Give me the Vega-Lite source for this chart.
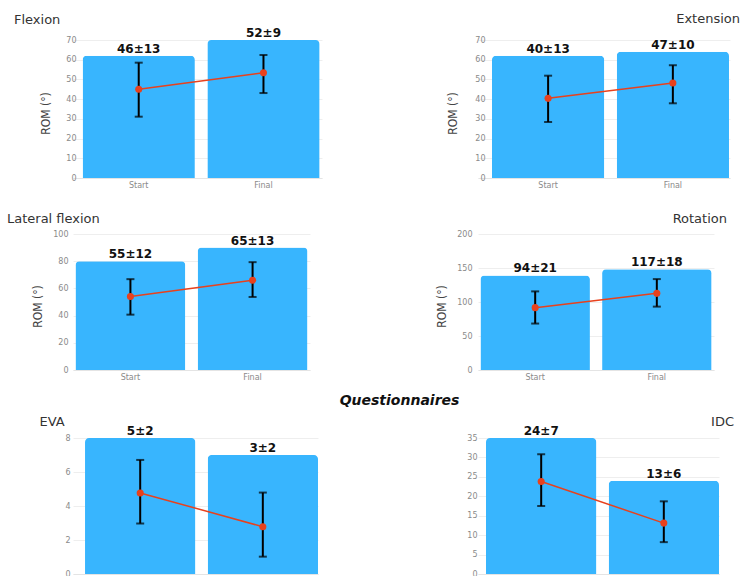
{
  "$schema": "https://vega.github.io/schema/vega-lite/v6.json",
  "padding": {"left": 7, "top": 13, "right": 0, "bottom": 0},
  "background": "white",
  "datasets": {
    "rom": [
      {"panel": "Flexion", "time": "Start", "bar": 62, "mean": 45, "lo": 31.1, "hi": 58.5, "label": "46±13"},
      {"panel": "Flexion", "time": "Final", "bar": 70, "mean": 53.4, "lo": 43.1, "hi": 62.4, "label": "52±9"},
      {"panel": "Extension", "time": "Start", "bar": 62, "mean": 40.4, "lo": 28.4, "hi": 51.9, "label": "40±13"},
      {"panel": "Extension", "time": "Final", "bar": 64, "mean": 48.2, "lo": 37.9, "hi": 57.2, "label": "47±10"},
      {"panel": "Lateral flexion", "time": "Start", "bar": 80, "mean": 54, "lo": 40.7, "hi": 66.8, "label": "55±12"},
      {"panel": "Lateral flexion", "time": "Final", "bar": 90, "mean": 66, "lo": 53.7, "hi": 79.3, "label": "65±13"},
      {"panel": "Rotation", "time": "Start", "bar": 139, "mean": 91.7, "lo": 68.3, "hi": 115.6, "label": "94±21"},
      {"panel": "Rotation", "time": "Final", "bar": 148, "mean": 112.7, "lo": 93.2, "hi": 133.7, "label": "117±18"},
      {"panel": "EVA", "time": "Start", "bar": 8, "mean": 4.77, "lo": 2.97, "hi": 6.71, "label": "5±2"},
      {"panel": "EVA", "time": "Final", "bar": 7, "mean": 2.78, "lo": 1.02, "hi": 4.79, "label": "3±2"},
      {"panel": "IDC", "time": "Start", "bar": 35, "mean": 23.8, "lo": 17.5, "hi": 30.8, "label": "24±7"},
      {"panel": "IDC", "time": "Final", "bar": 24, "mean": 13.1, "lo": 8.2, "hi": 18.7, "label": "13±6"}
    ]
  },
  "data": {"name": "rom"},
  "columns": 2,
  "spacing": {"row": 56, "column": 156},
  "bounds": "flush",
  "align": "none",
  "concat": [
    {
      "width": 249, "height": 138,
      "title": {"text": "Flexion", "anchor": "start", "dx": -59, "offset": 0},
      "transform": [{"filter": "datum.panel == 'Flexion'"}],
      "encoding": {"x": {"field": "time", "type": "nominal", "sort": ["Start", "Final"], "title": null, "scale": {"paddingInner": 0.1, "paddingOuter": 0.048, "align": 0.8}}},
      "layer": [
        {"mark": "bar", "encoding": {"y": {"field": "bar", "type": "quantitative", "title": "ROM (°)", "scale": {"domain": [0, 70], "nice": false}, "axis": {"values": [0, 10, 20, 30, 40, 50, 60, 70], "labelPadding": -3, "titleX": -28, "titleY": 73}}}},
        {"mark": {"type": "text", "dy": -3, "baseline": "alphabetic"}, "encoding": {"y": {"field": "bar", "type": "quantitative", "title": "ROM (°)", "scale": {"domain": [0, 70], "nice": false}, "axis": {"values": [0, 10, 20, 30, 40, 50, 60, 70], "labelPadding": -3, "titleX": -28, "titleY": 73}}, "text": {"field": "label"}}},
        {"mark": "rule", "encoding": {"y": {"field": "lo", "type": "quantitative", "title": "ROM (°)", "scale": {"domain": [0, 70], "nice": false}, "axis": {"values": [0, 10, 20, 30, 40, 50, 60, 70], "labelPadding": -3, "titleX": -28, "titleY": 73}}, "y2": {"field": "hi"}}},
        {"mark": {"type": "tick", "size": 8}, "encoding": {"y": {"field": "lo", "type": "quantitative", "title": "ROM (°)", "scale": {"domain": [0, 70], "nice": false}, "axis": {"values": [0, 10, 20, 30, 40, 50, 60, 70], "labelPadding": -3, "titleX": -28, "titleY": 73}}}},
        {"mark": {"type": "tick", "size": 8}, "encoding": {"y": {"field": "hi", "type": "quantitative", "title": "ROM (°)", "scale": {"domain": [0, 70], "nice": false}, "axis": {"values": [0, 10, 20, 30, 40, 50, 60, 70], "labelPadding": -3, "titleX": -28, "titleY": 73}}}},
        {"mark": "line", "encoding": {"y": {"field": "mean", "type": "quantitative", "title": "ROM (°)", "scale": {"domain": [0, 70], "nice": false}, "axis": {"values": [0, 10, 20, 30, 40, 50, 60, 70], "labelPadding": -3, "titleX": -28, "titleY": 73}}}},
        {"mark": "point", "encoding": {"y": {"field": "mean", "type": "quantitative", "title": "ROM (°)", "scale": {"domain": [0, 70], "nice": false}, "axis": {"values": [0, 10, 20, 30, 40, 50, 60, 70], "labelPadding": -3, "titleX": -28, "titleY": 73}}}}
      ]
    },
    {
      "width": 252, "height": 138,
      "title": {"text": "Extension", "anchor": "end", "dx": 10, "offset": 10},
      "transform": [{"filter": "datum.panel == 'Extension'"}],
      "encoding": {"x": {"field": "time", "type": "nominal", "sort": ["Start", "Final"], "title": null, "scale": {"paddingInner": 0.1, "paddingOuter": 0.06, "align": 0.933}}},
      "layer": [
        {"mark": "bar", "encoding": {"y": {"field": "bar", "type": "quantitative", "title": "ROM (°)", "scale": {"domain": [0, 70], "nice": false}, "axis": {"values": [0, 10, 20, 30, 40, 50, 60, 70], "labelPadding": -7, "titleX": -25.5, "titleY": 73}}}},
        {"mark": {"type": "text", "dy": -3, "baseline": "alphabetic"}, "encoding": {"y": {"field": "bar", "type": "quantitative", "title": "ROM (°)", "scale": {"domain": [0, 70], "nice": false}, "axis": {"values": [0, 10, 20, 30, 40, 50, 60, 70], "labelPadding": -7, "titleX": -25.5, "titleY": 73}}, "text": {"field": "label"}}},
        {"mark": "rule", "encoding": {"y": {"field": "lo", "type": "quantitative", "title": "ROM (°)", "scale": {"domain": [0, 70], "nice": false}, "axis": {"values": [0, 10, 20, 30, 40, 50, 60, 70], "labelPadding": -7, "titleX": -25.5, "titleY": 73}}, "y2": {"field": "hi"}}},
        {"mark": {"type": "tick", "size": 8}, "encoding": {"y": {"field": "lo", "type": "quantitative", "title": "ROM (°)", "scale": {"domain": [0, 70], "nice": false}, "axis": {"values": [0, 10, 20, 30, 40, 50, 60, 70], "labelPadding": -7, "titleX": -25.5, "titleY": 73}}}},
        {"mark": {"type": "tick", "size": 8}, "encoding": {"y": {"field": "hi", "type": "quantitative", "title": "ROM (°)", "scale": {"domain": [0, 70], "nice": false}, "axis": {"values": [0, 10, 20, 30, 40, 50, 60, 70], "labelPadding": -7, "titleX": -25.5, "titleY": 73}}}},
        {"mark": "line", "encoding": {"y": {"field": "mean", "type": "quantitative", "title": "ROM (°)", "scale": {"domain": [0, 70], "nice": false}, "axis": {"values": [0, 10, 20, 30, 40, 50, 60, 70], "labelPadding": -7, "titleX": -25.5, "titleY": 73}}}},
        {"mark": "point", "encoding": {"y": {"field": "mean", "type": "quantitative", "title": "ROM (°)", "scale": {"domain": [0, 70], "nice": false}, "axis": {"values": [0, 10, 20, 30, 40, 50, 60, 70], "labelPadding": -7, "titleX": -25.5, "titleY": 73}}}}
      ]
    },
    {
      "width": 237, "height": 136,
      "title": {"text": "Lateral flexion", "anchor": "start", "dx": -66, "offset": 4},
      "transform": [{"filter": "datum.panel == 'Lateral flexion'"}],
      "encoding": {"x": {"field": "time", "type": "nominal", "sort": ["Start", "Final"], "title": null, "scale": {"paddingInner": 0.1, "paddingOuter": 0.02}}},
      "layer": [
        {"mark": "bar", "encoding": {"y": {"field": "bar", "type": "quantitative", "title": "ROM (°)", "scale": {"domain": [0, 100], "nice": false}, "axis": {"values": [0, 20, 40, 60, 80, 100], "labelPadding": 5, "titleX": -36, "titleY": 72}}}},
        {"mark": {"type": "text", "dy": -3, "baseline": "alphabetic"}, "encoding": {"y": {"field": "bar", "type": "quantitative", "title": "ROM (°)", "scale": {"domain": [0, 100], "nice": false}, "axis": {"values": [0, 20, 40, 60, 80, 100], "labelPadding": 5, "titleX": -36, "titleY": 72}}, "text": {"field": "label"}}},
        {"mark": "rule", "encoding": {"y": {"field": "lo", "type": "quantitative", "title": "ROM (°)", "scale": {"domain": [0, 100], "nice": false}, "axis": {"values": [0, 20, 40, 60, 80, 100], "labelPadding": 5, "titleX": -36, "titleY": 72}}, "y2": {"field": "hi"}}},
        {"mark": {"type": "tick", "size": 8}, "encoding": {"y": {"field": "lo", "type": "quantitative", "title": "ROM (°)", "scale": {"domain": [0, 100], "nice": false}, "axis": {"values": [0, 20, 40, 60, 80, 100], "labelPadding": 5, "titleX": -36, "titleY": 72}}}},
        {"mark": {"type": "tick", "size": 8}, "encoding": {"y": {"field": "hi", "type": "quantitative", "title": "ROM (°)", "scale": {"domain": [0, 100], "nice": false}, "axis": {"values": [0, 20, 40, 60, 80, 100], "labelPadding": 5, "titleX": -36, "titleY": 72}}}},
        {"mark": "line", "encoding": {"y": {"field": "mean", "type": "quantitative", "title": "ROM (°)", "scale": {"domain": [0, 100], "nice": false}, "axis": {"values": [0, 20, 40, 60, 80, 100], "labelPadding": 5, "titleX": -36, "titleY": 72}}}},
        {"mark": "point", "encoding": {"y": {"field": "mean", "type": "quantitative", "title": "ROM (°)", "scale": {"domain": [0, 100], "nice": false}, "axis": {"values": [0, 20, 40, 60, 80, 100], "labelPadding": 5, "titleX": -36, "titleY": 72}}}}
      ]
    },
    {
      "width": 236, "height": 136,
      "title": {"text": "Rotation", "anchor": "end", "dx": 13, "offset": 4},
      "transform": [{"filter": "datum.panel == 'Rotation'"}],
      "encoding": {"x": {"field": "time", "type": "nominal", "sort": ["Start", "Final"], "title": null, "scale": {"paddingInner": 0.1, "paddingOuter": 0.02}}},
      "layer": [
        {"mark": "bar", "encoding": {"y": {"field": "bar", "type": "quantitative", "title": "ROM (°)", "scale": {"domain": [0, 200], "nice": false}, "axis": {"values": [0, 50, 100, 150, 200], "labelPadding": 6, "titleX": -37, "titleY": 72}}}},
        {"mark": {"type": "text", "dy": -3, "baseline": "alphabetic"}, "encoding": {"y": {"field": "bar", "type": "quantitative", "title": "ROM (°)", "scale": {"domain": [0, 200], "nice": false}, "axis": {"values": [0, 50, 100, 150, 200], "labelPadding": 6, "titleX": -37, "titleY": 72}}, "text": {"field": "label"}}},
        {"mark": "rule", "encoding": {"y": {"field": "lo", "type": "quantitative", "title": "ROM (°)", "scale": {"domain": [0, 200], "nice": false}, "axis": {"values": [0, 50, 100, 150, 200], "labelPadding": 6, "titleX": -37, "titleY": 72}}, "y2": {"field": "hi"}}},
        {"mark": {"type": "tick", "size": 8}, "encoding": {"y": {"field": "lo", "type": "quantitative", "title": "ROM (°)", "scale": {"domain": [0, 200], "nice": false}, "axis": {"values": [0, 50, 100, 150, 200], "labelPadding": 6, "titleX": -37, "titleY": 72}}}},
        {"mark": {"type": "tick", "size": 8}, "encoding": {"y": {"field": "hi", "type": "quantitative", "title": "ROM (°)", "scale": {"domain": [0, 200], "nice": false}, "axis": {"values": [0, 50, 100, 150, 200], "labelPadding": 6, "titleX": -37, "titleY": 72}}}},
        {"mark": "line", "encoding": {"y": {"field": "mean", "type": "quantitative", "title": "ROM (°)", "scale": {"domain": [0, 200], "nice": false}, "axis": {"values": [0, 50, 100, 150, 200], "labelPadding": 6, "titleX": -37, "titleY": 72}}}},
        {"mark": "point", "encoding": {"y": {"field": "mean", "type": "quantitative", "title": "ROM (°)", "scale": {"domain": [0, 200], "nice": false}, "axis": {"values": [0, 50, 100, 150, 200], "labelPadding": 6, "titleX": -37, "titleY": 72}}}}
      ]
    },
    {
      "width": 245, "height": 148,
      "title": {"text": "Questionnaires", "anchor": "middle", "dx": 204, "offset": 7, "fontSize": 14, "fontStyle": "italic", "fontWeight": "bold", "color": "#111111"},
      "transform": [{"filter": "datum.panel == 'EVA'"}],
      "encoding": {"x": {"field": "time", "type": "nominal", "sort": ["Start", "Final"], "title": null, "scale": {"paddingInner": 0.1, "paddingOuter": 0.049, "align": 1}}},
      "layer": [
        {"mark": "bar", "encoding": {"y": {"field": "bar", "type": "quantitative", "title": "EVA", "scale": {"domain": [0, 8.706], "nice": false}, "axis": {"values": [0, 2, 4, 6, 8], "labelPadding": 3, "titleAngle": 0, "titleAlign": "left", "titleBaseline": "alphabetic", "titleX": -34, "titleY": -1, "titleFont": "DejaVu Sans", "titleFontSize": 13, "titleColor": "#333333"}}}},
        {"mark": {"type": "text", "dy": -3, "baseline": "alphabetic"}, "encoding": {"y": {"field": "bar", "type": "quantitative", "title": "EVA", "scale": {"domain": [0, 8.706], "nice": false}, "axis": {"values": [0, 2, 4, 6, 8], "labelPadding": 3, "titleAngle": 0, "titleAlign": "left", "titleBaseline": "alphabetic", "titleX": -34, "titleY": -1, "titleFont": "DejaVu Sans", "titleFontSize": 13, "titleColor": "#333333"}}, "text": {"field": "label"}}},
        {"mark": "rule", "encoding": {"y": {"field": "lo", "type": "quantitative", "title": "EVA", "scale": {"domain": [0, 8.706], "nice": false}, "axis": {"values": [0, 2, 4, 6, 8], "labelPadding": 3, "titleAngle": 0, "titleAlign": "left", "titleBaseline": "alphabetic", "titleX": -34, "titleY": -1, "titleFont": "DejaVu Sans", "titleFontSize": 13, "titleColor": "#333333"}}, "y2": {"field": "hi"}}},
        {"mark": {"type": "tick", "size": 8}, "encoding": {"y": {"field": "lo", "type": "quantitative", "title": "EVA", "scale": {"domain": [0, 8.706], "nice": false}, "axis": {"values": [0, 2, 4, 6, 8], "labelPadding": 3, "titleAngle": 0, "titleAlign": "left", "titleBaseline": "alphabetic", "titleX": -34, "titleY": -1, "titleFont": "DejaVu Sans", "titleFontSize": 13, "titleColor": "#333333"}}}},
        {"mark": {"type": "tick", "size": 8}, "encoding": {"y": {"field": "hi", "type": "quantitative", "title": "EVA", "scale": {"domain": [0, 8.706], "nice": false}, "axis": {"values": [0, 2, 4, 6, 8], "labelPadding": 3, "titleAngle": 0, "titleAlign": "left", "titleBaseline": "alphabetic", "titleX": -34, "titleY": -1, "titleFont": "DejaVu Sans", "titleFontSize": 13, "titleColor": "#333333"}}}},
        {"mark": "line", "encoding": {"y": {"field": "mean", "type": "quantitative", "title": "EVA", "scale": {"domain": [0, 8.706], "nice": false}, "axis": {"values": [0, 2, 4, 6, 8], "labelPadding": 3, "titleAngle": 0, "titleAlign": "left", "titleBaseline": "alphabetic", "titleX": -34, "titleY": -1, "titleFont": "DejaVu Sans", "titleFontSize": 13, "titleColor": "#333333"}}}},
        {"mark": "point", "encoding": {"y": {"field": "mean", "type": "quantitative", "title": "EVA", "scale": {"domain": [0, 8.706], "nice": false}, "axis": {"values": [0, 2, 4, 6, 8], "labelPadding": 3, "titleAngle": 0, "titleAlign": "left", "titleBaseline": "alphabetic", "titleX": -34, "titleY": -1, "titleFont": "DejaVu Sans", "titleFontSize": 13, "titleColor": "#333333"}}}}
      ]
    },
    {
      "width": 241, "height": 148,
      "title": {"text": "IDC", "anchor": "end", "dx": 15, "offset": -4},
      "transform": [{"filter": "datum.panel == 'IDC'"}],
      "encoding": {"x": {"field": "time", "type": "nominal", "sort": ["Start", "Final"], "title": null, "scale": {"paddingInner": 0.1, "paddingOuter": 0.0326, "align": 1}}},
      "layer": [
        {"mark": "bar", "encoding": {"y": {"field": "bar", "type": "quantitative", "title": null, "scale": {"domain": [0, 38.09], "nice": false}, "axis": {"values": [0, 5, 10, 15, 20, 25, 30, 35], "labelPadding": 1}}}},
        {"mark": {"type": "text", "dy": -3, "baseline": "alphabetic"}, "encoding": {"y": {"field": "bar", "type": "quantitative", "title": null, "scale": {"domain": [0, 38.09], "nice": false}, "axis": {"values": [0, 5, 10, 15, 20, 25, 30, 35], "labelPadding": 1}}, "text": {"field": "label"}}},
        {"mark": "rule", "encoding": {"y": {"field": "lo", "type": "quantitative", "title": null, "scale": {"domain": [0, 38.09], "nice": false}, "axis": {"values": [0, 5, 10, 15, 20, 25, 30, 35], "labelPadding": 1}}, "y2": {"field": "hi"}}},
        {"mark": {"type": "tick", "size": 8}, "encoding": {"y": {"field": "lo", "type": "quantitative", "title": null, "scale": {"domain": [0, 38.09], "nice": false}, "axis": {"values": [0, 5, 10, 15, 20, 25, 30, 35], "labelPadding": 1}}}},
        {"mark": {"type": "tick", "size": 8}, "encoding": {"y": {"field": "hi", "type": "quantitative", "title": null, "scale": {"domain": [0, 38.09], "nice": false}, "axis": {"values": [0, 5, 10, 15, 20, 25, 30, 35], "labelPadding": 1}}}},
        {"mark": "line", "encoding": {"y": {"field": "mean", "type": "quantitative", "title": null, "scale": {"domain": [0, 38.09], "nice": false}, "axis": {"values": [0, 5, 10, 15, 20, 25, 30, 35], "labelPadding": 1}}}},
        {"mark": "point", "encoding": {"y": {"field": "mean", "type": "quantitative", "title": null, "scale": {"domain": [0, 38.09], "nice": false}, "axis": {"values": [0, 5, 10, 15, 20, 25, 30, 35], "labelPadding": 1}}}}
      ]
    }
  ],
  "config": {
    "font": "DejaVu Sans",
    "view": {"stroke": null},
    "axis": {"labelFont": "DejaVu Sans", "labelFontSize": 8, "labelColor": "#8a8a8a", "labelOverlap": false, "ticks": false, "domain": false, "gridColor": "#eeeeee", "titleFont": "DejaVu Sans Condensed, Liberation Sans Narrow, Liberation Sans, sans-serif", "titleFontSize": 12, "titleFontWeight": "normal", "titleColor": "#444444"},
    "axisY": {"titleBaseline": "middle"},
    "axisX": {"grid": false, "labelAngle": 0, "domain": true, "domainColor": "#e4e4e4", "labelPadding": 3},
    "title": {"font": "DejaVu Sans", "fontSize": 13, "fontWeight": "normal", "color": "#333333", "frame": "group", "baseline": "alphabetic"},
    "bar": {"color": "#38b5fe", "cornerRadiusTopLeft": 4, "cornerRadiusTopRight": 4},
    "text": {"font": "DejaVu Sans", "fontSize": 12, "fontWeight": "bold", "color": "#111111"},
    "line": {"color": "#e8411d", "strokeWidth": 1.5},
    "point": {"color": "#e8411d", "filled": true, "size": 50, "opacity": 1},
    "rule": {"color": "#000000", "strokeWidth": 2},
    "tick": {"color": "#000000", "thickness": 2}
  }
}
